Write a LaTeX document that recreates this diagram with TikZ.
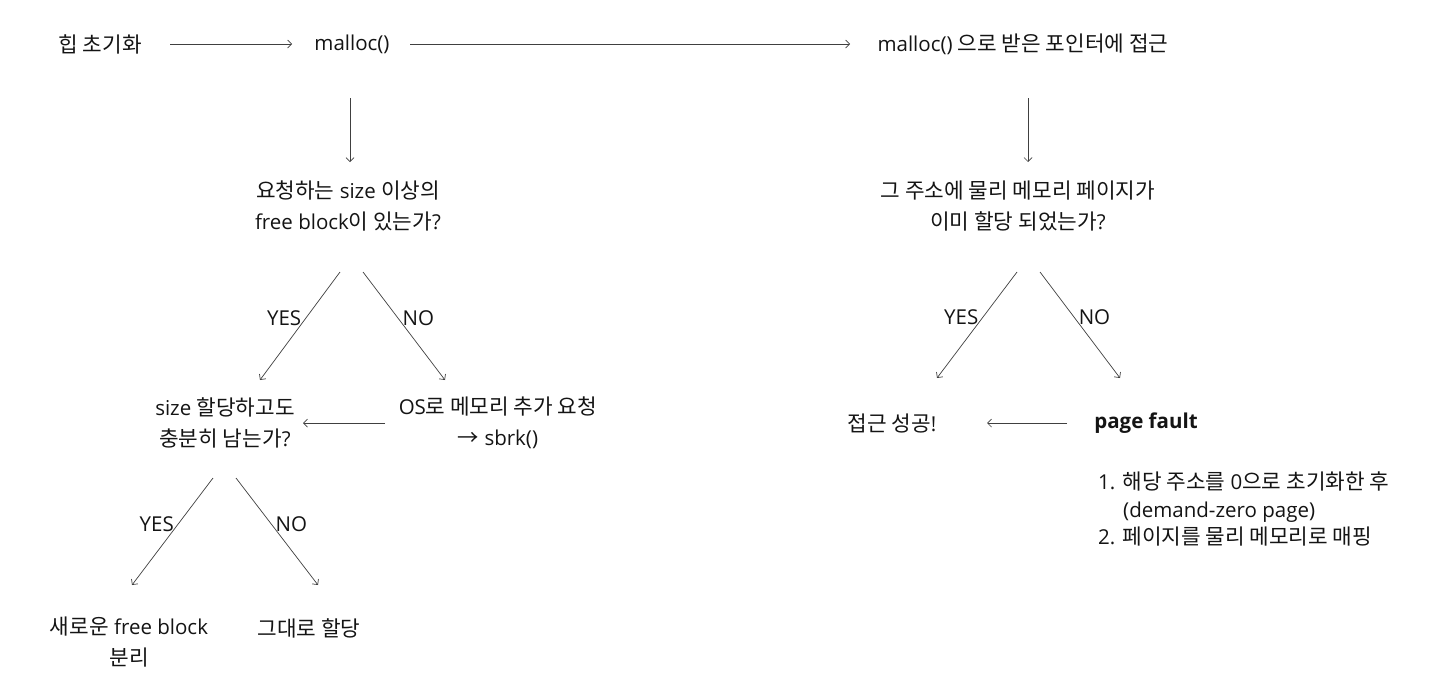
\documentclass[tikz,border=0pt]{standalone}
\usepackage{fontspec}
\setmainfont{Open Sans}
\newfontfamily\krfont{Noto Sans CJK KR}[Scale=1.04]
\newcommand\K[1]{{\krfont #1}}
\usetikzlibrary{arrows.meta,calc}
\tikzset{
  txt/.style={inner sep=0pt, align=center, font=\fontsize{20.5}{31}\selectfont, text=black!92},
  lbl/.style={inner sep=0pt, font=\fontsize{20.5}{24}\selectfont, text=black!92},
  arr/.style={draw=black!75, line width=0.7pt, -{Straight Barb[length=4pt,width=8pt]}}
}
\begin{document}
\begin{tikzpicture}[x=1pt,y=1pt]
\useasboundingbox[fill=white] (0,0) rectangle (1432,-686);
% nodes
\node[txt] (init) at (100,-44) {\K{힙 초기화}};
\node[txt] (malloc) at (352,-44) {malloc()};
\node[txt] (access) at (1023,-44) {malloc() \K{으로 받은 포인터에 접근}};
\node[txt] (q1) at (348,-206) {\K{요청하는} size \K{이상의}\\free block\K{이 있는가}?};
\node[txt] (s1) at (225,-423) {size \K{할당하고도}\\\K{충분히 남는가}?};
\node[txt] (os) at (498,-423) {OS\K{로 메모리 추가 요청}\\\K{→} sbrk()};
\node[txt] (newb) at (129,-642) {\K{새로운} free block\\\K{분리}};
\node[txt] (asis) at (309,-628) {\K{그대로 할당}};
\node[txt] (q2) at (1018,-206) {\K{그 주소에 물리 메모리 페이지가}\\\K{이미 할당 되었는가}?};
\node[txt] (ok) at (892,-423) {\K{접근 성공}!};
\node[txt, font=\fontsize{20.5}{31}\selectfont\bfseries] (pf) at (1146,-423) {page fault};
\node[inner sep=0pt, anchor=north west, align=left, text=black!92, font=\fontsize{20.5}{27.5}\selectfont] (list) at (1098,-472)
  {1. \K{해당 주소를} 0\K{으로 초기화한 후}\\\hspace*{25pt}(demand-zero page)\\2. \K{페이지를 물리 메모리로 매핑}};
% arrows
\draw[arr] ($(init.center)+(70,0)$) -- ($(malloc.center)+(-60,0)$);
\draw[arr] ($(malloc.center)+(58,0)$) -- ($(access.center)+(-173,0)$);
\draw[arr] ($(malloc.center)+(-2,-54)$) -- ($(q1.center)+(2,44)$);
\draw[arr] ($(q1.center)+(-8,-66)$) -- node[lbl, pos=0.43, left=4pt] (y1) {YES} ($(s1.center)+(35,43)$);
\draw[arr] ($(q1.center)+(15,-66)$) -- node[lbl, pos=0.43, right=4pt] (n1) {NO} ($(os.center)+(-53,43)$);
\draw[arr] ($(os.center)+(-113,0)$) -- ($(s1.center)+(78,0)$);
\draw[arr] ($(s1.center)+(-12,-55)$) -- node[lbl, pos=0.43, left=4pt] (y2) {YES} ($(newb.center)+(3,57)$);
\draw[arr] ($(s1.center)+(11,-55)$) -- node[lbl, pos=0.43, right=4pt] (n2) {NO} ($(asis.center)+(9,43)$);
\draw[arr] ($(access.center)+(5,-54)$) -- ($(q2.center)+(10,44)$);
\draw[arr] ($(q2.center)+(-1,-66)$) -- node[lbl, pos=0.43, left=4pt] (y3) {YES} ($(ok.center)+(45,45)$);
\draw[arr] ($(q2.center)+(22,-66)$) -- node[lbl, pos=0.43, right=4pt] (n3) {NO} ($(pf.center)+(-26,45)$);
\draw[arr] ($(pf.center)+(-79,0)$) -- ($(ok.center)+(95,0)$);
\end{tikzpicture}
\end{document}
